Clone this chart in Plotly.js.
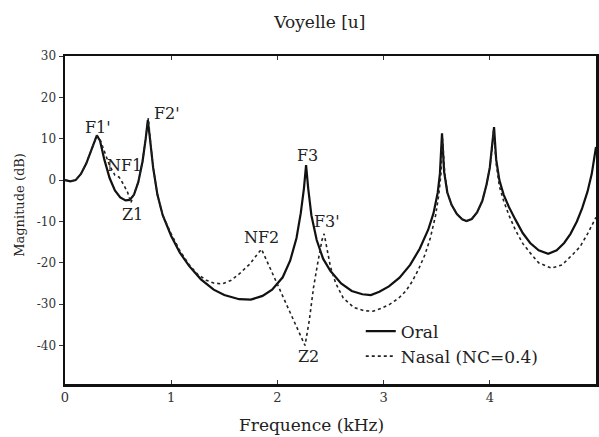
<!DOCTYPE html>
<html>
<head>
<meta charset="utf-8">
<script src="https://cdn.plot.ly/plotly-3.0.1.min.js"></script>
<style>html,body{margin:0;padding:0;background:#fff;}#chart{width:599px;height:437px;}</style>
</head>
<body>
<div id="chart"></div>
<script>
// Frequency (kHz) and magnitude (dB)
const oralFreq = [0.00,0.05,0.10,0.15,0.20,0.25,0.30,0.33,0.37,0.42,0.47,0.52,0.57,0.61,0.65,0.69,0.73,0.76,0.78,0.80,0.83,0.87,0.92,1.00,1.08,1.17,1.28,1.40,1.50,1.64,1.75,1.86,1.95,2.05,2.12,2.18,2.22,2.25,2.27,2.29,2.32,2.37,2.43,2.50,2.60,2.70,2.80,2.88,2.96,3.05,3.15,3.25,3.34,3.42,3.47,3.51,3.53,3.55,3.57,3.60,3.64,3.69,3.74,3.78,3.83,3.88,3.93,3.97,4.00,4.02,4.04,4.06,4.09,4.13,4.18,4.24,4.31,4.38,4.46,4.55,4.63,4.70,4.76,4.82,4.87,4.92,4.96,5.00];
const oralDb   = [0.0,-0.3,0.0,1.5,4.0,7.5,10.8,9.5,5.0,0.5,-2.5,-4.2,-4.9,-4.8,-3.5,-0.5,4.5,10.0,14.5,10.0,3.0,-3.5,-8.5,-13.5,-17.5,-20.8,-24.0,-26.5,-27.8,-28.8,-28.9,-28.0,-26.5,-23.5,-19.5,-14.0,-8.0,-2.0,3.6,-2.0,-8.5,-14.5,-19.0,-22.0,-25.0,-26.8,-27.6,-27.8,-27.0,-25.7,-23.6,-20.5,-16.6,-12.0,-8.0,-3.0,1.5,11.3,2.0,-3.0,-6.0,-8.2,-9.5,-9.9,-9.4,-7.8,-5.0,-1.0,3.0,8.0,12.8,5.0,0.0,-3.5,-6.5,-9.5,-12.8,-15.2,-17.0,-17.8,-17.0,-15.2,-13.0,-10.0,-6.8,-2.8,1.5,8.0];

const nasalFreq = [0.00,0.05,0.10,0.15,0.20,0.25,0.30,0.33,0.37,0.42,0.47,0.51,0.55,0.59,0.62,0.65,0.69,0.73,0.76,0.785,0.80,0.83,0.87,0.92,1.00,1.08,1.17,1.25,1.33,1.40,1.48,1.56,1.64,1.74,1.80,1.85,1.90,1.97,2.05,2.12,2.19,2.26,2.30,2.34,2.38,2.42,2.44,2.46,2.50,2.55,2.62,2.72,2.82,2.90,2.98,3.06,3.14,3.21,3.27,3.33,3.39,3.44,3.49,3.52,3.54,3.555,3.575,3.60,3.64,3.69,3.74,3.78,3.83,3.88,3.93,3.97,4.00,4.02,4.035,4.06,4.09,4.13,4.18,4.24,4.31,4.38,4.46,4.58,4.68,4.78,4.85,4.92,4.96,5.00];
const nasalDb   = [0.0,-0.3,0.0,1.5,4.0,7.5,10.8,9.8,7.0,3.5,1.2,0.7,-1.0,-3.0,-5.5,-3.5,-0.5,4.5,10.0,15.0,10.5,3.0,-3.5,-8.5,-13.0,-17.0,-20.5,-22.8,-24.2,-24.9,-25.1,-24.3,-22.7,-20.3,-18.3,-16.7,-19.5,-23.5,-28.0,-32.0,-36.0,-40.0,-34.0,-26.0,-20.0,-14.5,-13.0,-16.0,-21.0,-25.0,-28.5,-30.8,-31.6,-31.7,-31.0,-30.0,-28.6,-26.8,-24.5,-21.5,-18.0,-14.0,-8.5,-3.5,1.5,10.0,2.0,-3.0,-6.0,-8.2,-9.5,-9.9,-9.4,-7.8,-5.0,-1.0,3.0,7.0,12.0,4.0,-1.5,-5.0,-8.5,-12.0,-15.3,-17.6,-20.0,-21.3,-20.5,-18.0,-16.1,-13.0,-11.0,-9.0];

const yTickVals = [30,20,10,0,-10,-20,-30,-40];
const yTickText = ["30","20","10","0","-10","-20","-30","-40"];
const xTickVals = [0,1,2,3,4];
const xTickText = ["0","1","2","3","4"];

const labelText = ["F1'","NF1","Z1","F2'","NF2","F3","F3'","Z2"];
const labelFreq = [0.31,0.56,0.64,0.96,1.85,2.28,2.47,2.29];
const labelDb   = [12.8,3.6,-8.4,16.1,-14.0,6.0,-10.1,-42.6];

const serif = "DejaVu Serif, serif";

const traces = [
  {x: oralFreq, y: oralDb, type: 'scatter', mode: 'lines', name: 'Oral',
   line: {color: '#111', width: 2.2}},
  {x: nasalFreq, y: nasalDb, type: 'scatter', mode: 'lines', name: 'Nasal (NC=0.4)',
   line: {color: '#222', width: 1.6, dash: 'dot'}}
];

const annotations = labelText.map((t, i) => ({
  x: labelFreq[i], y: labelDb[i], xref: 'x', yref: 'y', text: t, showarrow: false,
  font: {family: serif, size: 16, color: '#222'}, xanchor: 'center', yanchor: 'middle'
}));
annotations.push({xref: 'paper', yref: 'paper', x: 0.465, y: -0.125, text: 'Frequence (kHz)',
  showarrow: false, font: {family: serif, size: 17, color: '#222'}, xanchor: 'center', yanchor: 'middle'});
annotations.push({xref: 'paper', yref: 'paper', x: -0.085, y: 0.546, text: 'Magnitude (dB)', textangle: -90,
  showarrow: false, font: {family: serif, size: 13, color: '#222'}, xanchor: 'center', yanchor: 'middle'});

const layout = {
  width: 599, height: 437,
  margin: {l: 65, r: 3, t: 56, b: 53},
  paper_bgcolor: '#fff', plot_bgcolor: '#fff',
  title: {text: 'Voyelle [u]', x: 0.534, xref: 'container', xanchor: 'center', y: 0.95, yref: 'container', yanchor: 'middle',
          font: {family: serif, size: 17, color: '#222'}},
  showlegend: true,
  legend: {x: 0.557, y: 0.215, xanchor: 'left', yanchor: 'top', bgcolor: 'rgba(0,0,0,0)',
           font: {family: serif, size: 17, color: '#222'}, tracegroupgap: 0, itemwidth: 30},
  xaxis: {range: [0, 5.0], tickvals: xTickVals, ticktext: xTickText, showgrid: false, zeroline: false,
          showline: true, linecolor: '#111', linewidth: 2.5, mirror: 'ticks', ticks: 'inside', ticklen: 4, tickcolor: '#333',
          tickfont: {family: serif, size: 13, color: '#333'}},
  yaxis: {range: [-49.3, 30], tickvals: yTickVals, ticktext: yTickText, showgrid: false, zeroline: false,
          showline: true, linecolor: '#111', linewidth: 2.5, mirror: 'ticks', ticks: 'outside', ticklen: 4, tickcolor: '#333',
          tickfont: {family: serif, size: 12, color: '#333'}},
  annotations: annotations
};

Plotly.newPlot('chart', traces, layout, {displayModeBar: false, staticPlot: true});
</script>
</body>
</html>
